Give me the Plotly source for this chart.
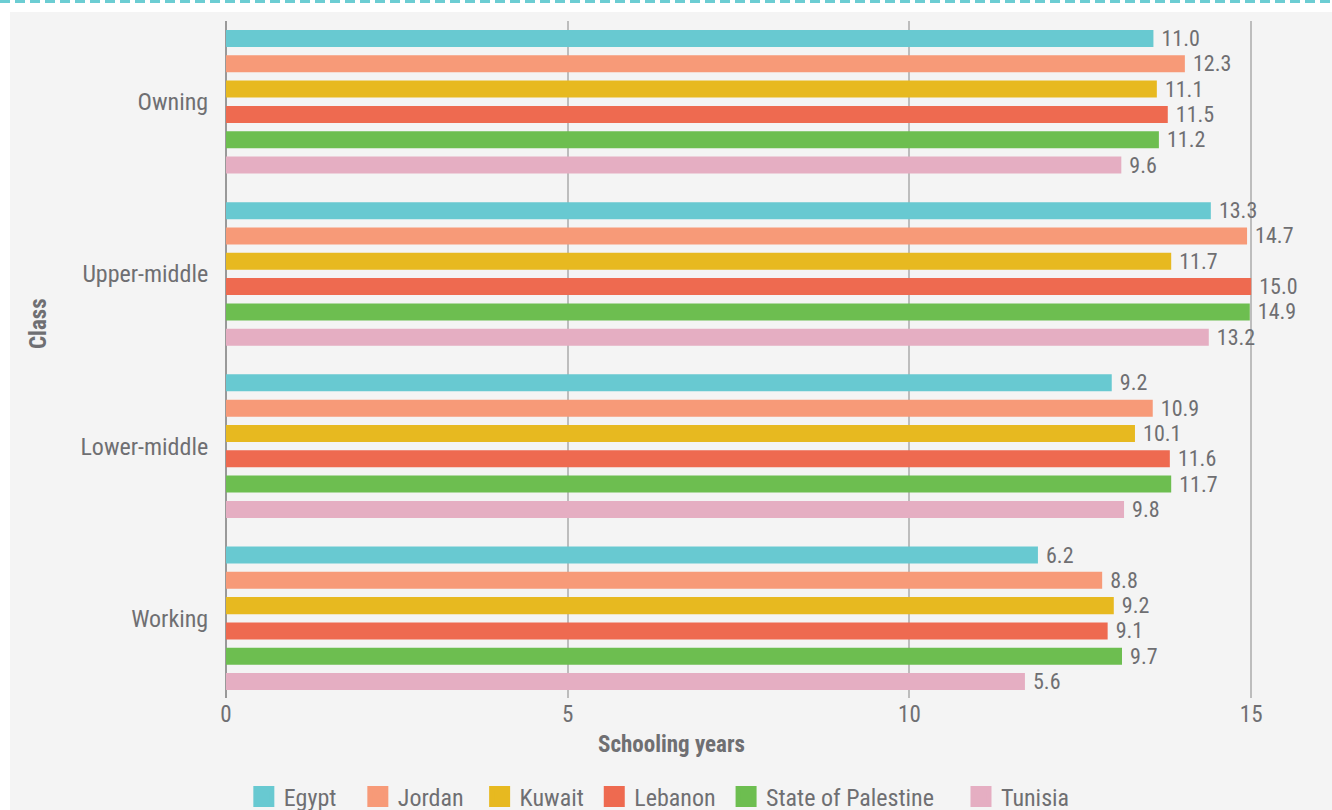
import plotly.graph_objects as go

# ---------------- data ----------------
classes = ["Owning", "Upper-middle", "Lower-middle", "Working"]
countries = ["Egypt", "Jordan", "Kuwait", "Lebanon", "State of Palestine", "Tunisia"]
colors = ["#68c9d1", "#f79a78", "#e7b920", "#ee6a50", "#6dbe50", "#e5aec2"]

# values printed next to the bars (schooling years)
egypt_values = [11.0, 13.3, 9.2, 6.2]
jordan_values = [12.3, 14.7, 10.9, 8.8]
kuwait_values = [11.1, 11.7, 10.1, 9.2]
lebanon_values = [11.5, 15.0, 11.6, 9.1]
palestine_values = [11.2, 14.9, 11.7, 9.7]
tunisia_values = [9.6, 13.2, 9.8, 5.6]

# bar lengths as drawn against the axis in the picture
egypt_bars = [13.57, 14.41, 12.96, 11.88]
jordan_bars = [14.03, 14.94, 13.56, 12.82]
kuwait_bars = [13.62, 13.83, 13.30, 12.99]
lebanon_bars = [13.78, 15.00, 13.81, 12.90]
palestine_bars = [13.65, 14.98, 13.83, 13.11]
tunisia_bars = [13.10, 14.38, 13.14, 11.69]

x_ticks = [0, 5, 10, 15]

values = [egypt_values, jordan_values, kuwait_values, lebanon_values, palestine_values, tunisia_values]
bars = [egypt_bars, jordan_bars, kuwait_bars, lebanon_bars, palestine_bars, tunisia_bars]

# extra trailing spacing of legend entries (in non-breaking spaces)
legend_pad = [3, 2, 1, 1, 4, 0]

FONT = "Liberation Sans Narrow, Roboto Condensed, Roboto, sans-serif"
TXT = "#6f6f72"
NB = "\u00a0"

fig = go.Figure()
for name, col, b, v in zip(countries, colors, bars, values):
    fig.add_trace(go.Bar(
        y=classes, x=b, orientation="h", name=name,
        marker=dict(color=col, line=dict(width=0)),
        text=[NB + f"{t:.1f}" for t in v],
        textposition="outside", cliponaxis=False, constraintext="none",
        textfont=dict(family=FONT, size=22, color=TXT),
        showlegend=False,
    ))
# legend entries with large square swatches
for name, col, pad in zip(countries, colors, legend_pad):
    fig.add_trace(go.Scatter(
        x=[None], y=[None], mode="markers", name=name + NB * pad,
        marker=dict(symbol="square", size=16, color=col,
                    line=dict(color=col, width=5)),
    ))

W, H = 1332, 810
L, R, T, B = 226, 33, 21, 112
pw, ph = W - L - R, H - T - B

def px(x):
    return (x - L) / pw

def py(y):
    return (H - B - y) / ph

fig.update_layout(
    width=W, height=H,
    margin=dict(l=L, r=R, t=T, b=B, pad=0),
    paper_bgcolor="white",
    plot_bgcolor="rgba(0,0,0,0)",
    barmode="group", bargap=0.118, bargroupgap=0.328,
    font=dict(family=FONT, size=23, color=TXT),
    xaxis=dict(
        range=[0, 15.7], tickvals=x_ticks, ticktext=[str(t) for t in x_ticks],
        showgrid=True, gridcolor="#bdbdbd", gridwidth=2,
        zeroline=True, zerolinecolor="#999999", zerolinewidth=2,
        showline=False, ticks="", tickfont=dict(size=23, color=TXT),
        fixedrange=True,
    ),
    yaxis=dict(
        range=[3.463, -0.469], showgrid=False, zeroline=False, showline=False,
        ticks="outside", ticklen=12, tickcolor="rgba(0,0,0,0)",
        tickfont=dict(size=24, color=TXT), fixedrange=True,
    ),
    legend=dict(
        orientation="h", xref="container", yref="container",
        x=0.495, xanchor="center", y=(H - 797) / H, yanchor="middle",
        font=dict(size=24, color=TXT), bgcolor="rgba(0,0,0,0)",
        itemsizing="trace",
    ),
    shapes=[
        dict(type="rect", xref="paper", yref="paper",
             x0=px(10), x1=px(W + 5), y0=py(H + 5), y1=py(12),
             fillcolor="#f4f4f4", line=dict(width=0), layer="below"),
        dict(type="line", xref="paper", yref="paper",
             x0=px(0), x1=px(W), y0=py(1.5), y1=py(1.5),
             line=dict(color="#6ccdd3", width=3, dash="10px,5px"), layer="below"),
    ],
    annotations=[
        dict(text="<b>Schooling years</b>", xref="paper", yref="paper",
             x=px(671), y=py(744), xanchor="center", yanchor="middle",
             showarrow=False, font=dict(size=23, color=TXT)),
        dict(text="<b>Class</b>", xref="paper", yref="paper",
             x=px(38), y=py(324), xanchor="center", yanchor="middle",
             textangle=-90, showarrow=False, font=dict(size=23, color=TXT)),
    ],
)

fig.write_html("out.html", config={"displayModeBar": False})
